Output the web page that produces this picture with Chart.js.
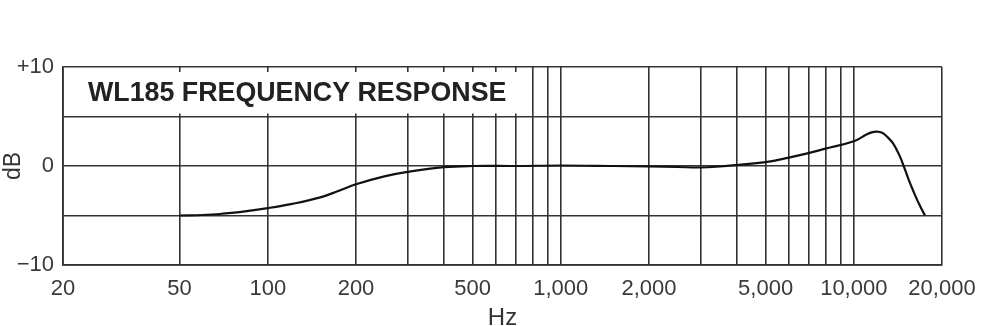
<!DOCTYPE html>
<html><head><meta charset="utf-8">
<script src="https://cdn.jsdelivr.net/npm/chart.js@4/dist/chart.umd.min.js"></script>
<style>
html,body{margin:0;padding:0;background:#fff;overflow:hidden;width:1000px;height:326px}
#wrap{position:absolute;left:0;top:0;width:1040px;height:345px}
</style>
</head><body><div id="wrap"><canvas id="c" width="1040" height="345"></canvas></div>
<script>
const freqHz = [50,60,70,80,100,120,150,175,200,250,300,400,500,700,1000,1500,2000,2500,3000,3500,4000,5000,6000,7000,8000,10000,11000,11500,12000,12500,13000,13600,14300,14800,15400,16000,16800,17500];
const responseDb = [-5,-4.95,-4.82,-4.65,-4.25,-3.85,-3.2,-2.5,-1.85,-1.05,-0.6,-0.12,0,0,0.05,0,-0.05,-0.1,-0.15,-0.05,0.1,0.4,0.85,1.3,1.75,2.5,3.15,3.4,3.48,3.35,2.95,2.3,1.1,0,-1.4,-2.6,-4,-5];
const gridFreqs = [20,50,100,200,300,400,500,600,700,800,900,1000,2000,3000,4000,5000,6000,7000,8000,9000,10000,20000];
const freqLabels = {20:'20',50:'50',100:'100',200:'200',500:'500',1000:'1,000',2000:'2,000',5000:'5,000',10000:'10,000',20000:'20,000'};
const dbTicks = [-10,-5,0,5,10];
const dbLabels = {'-10':'\u221210','0':'0','10':'+10'};
const chartTitle = 'WL185 FREQUENCY RESPONSE';
const xTitle = 'Hz';
const yTitle = 'dB';

const FONT = '"Liberation Sans", Arial, Helvetica, sans-serif';
const GRID = '#333333';

const titleBox = {
  id: 'titleBox',
  beforeDatasetsDraw(chart) {
    const {ctx, chartArea, scales} = chart;
    const left = chartArea.left + 2;
    const right = (scales.x.getPixelForValue(700) + scales.x.getPixelForValue(800)) / 2;
    const top = chartArea.top + 5;
    const bottom = scales.y.getPixelForValue(5) - 3;
    ctx.save();
    ctx.fillStyle = '#ffffff';
    ctx.fillRect(left, top, right - left, bottom - top);
    ctx.fillStyle = '#222222';
    ctx.font = 'bold 26.8px ' + FONT;
    ctx.textBaseline = 'alphabetic';
    ctx.textAlign = 'left';
    ctx.fillText(chartTitle, chartArea.left + 25, chartArea.top + 34);
    ctx.restore();
  }
};

new Chart(document.getElementById('c'), {
  type: 'line',
  data: {
    datasets: [{
      data: freqHz.map((f, i) => ({x: f, y: responseDb[i]})),
      borderColor: '#111111',
      borderWidth: 2.2,
      pointRadius: 0,
      tension: 0.4,
      fill: false
    }]
  },
  options: {
    responsive: false,
    animation: false,
    devicePixelRatio: 1,
    layout: {padding: {left: 0, top: 67, right: 98, bottom: 0}},
    plugins: {legend: {display: false}, tooltip: {enabled: false}, title: {display: false}},
    scales: {
      x: {
        type: 'logarithmic',
        min: 20, max: 20000,
        afterBuildTicks: (s) => { s.ticks = gridFreqs.map(v => ({value: v})); },
        afterFit: (s) => { s.height = 80; },
        grid: {color: GRID, lineWidth: 1.6, drawTicks: false},
        border: {display: true, color: GRID, width: 1.8},
        ticks: {
          autoSkip: false, maxRotation: 0, padding: 11,
          color: '#3a3a3a', font: {family: FONT, size: 22},
          callback: (v) => freqLabels[v] || ''
        },
        title: {display: true, text: xTitle, color: '#333', font: {family: FONT, size: 24}, padding: {top: 0, bottom: 12}}
      },
      y: {
        min: -10, max: 10,
        afterBuildTicks: (s) => { s.ticks = dbTicks.map(v => ({value: v})); },
        afterFit: (s) => { s.width = 63; },
        grid: {color: GRID, lineWidth: 1.6, drawTicks: false},
        border: {display: true, color: GRID, width: 1.8},
        ticks: {
          padding: 9, color: '#3a3a3a', font: {family: FONT, size: 22},
          callback: (v) => dbLabels[String(v)] || ''
        },
        title: {display: true, text: yTitle, color: '#333', font: {family: FONT, size: 23}, padding: {top: 0, bottom: 0}}
      }
    }
  },
  plugins: [titleBox]
});
</script>
</body></html>
